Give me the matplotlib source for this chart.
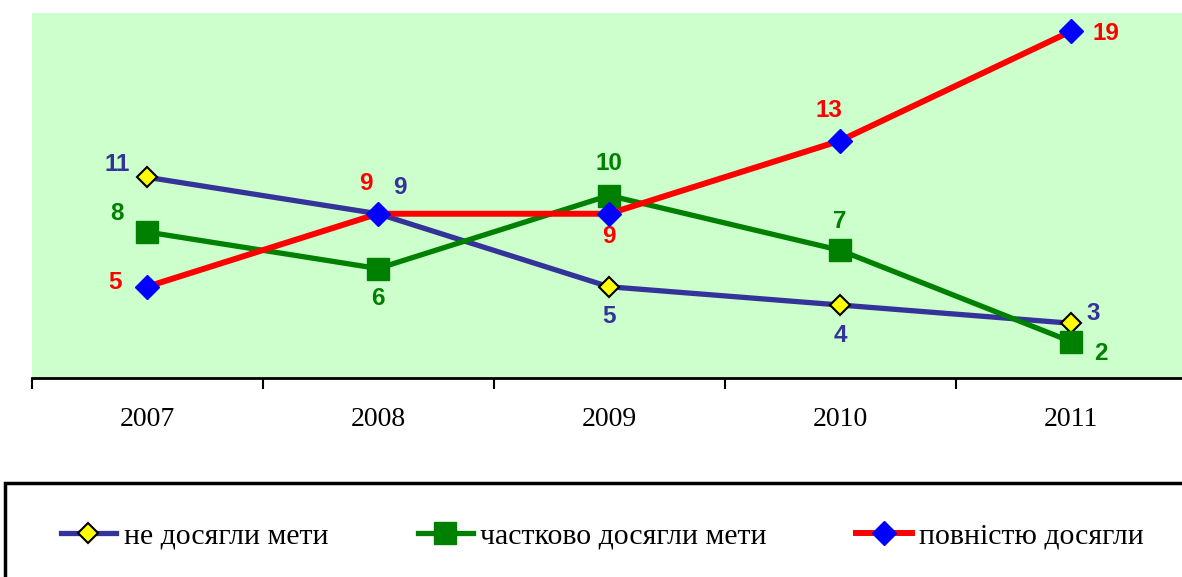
import matplotlib.pyplot as plt
from matplotlib.patches import Rectangle

# данные
years = ['2007', '2008', '2009', '2010', '2011']
ne_dosyahly = [11, 9, 5, 4, 3]
chastkovo = [8, 6, 10, 7, 2]
povnistyu = [5, 9, 9, 13, 19]
names = ['не досягли мети', 'частково досягли мети', 'повністю досягли']

# зміщення підписів (пікселі)
off_ne = [(-30, 13), (22, 26), (0, -30), (0, -30), (22, 10)]
off_ch = [(-30, 18), (0, -30), (0, 32), (0, 29), (30, -12)]
off_pov = [(-32, 4), (-12, 30), (0, -23), (-11, 30), (35, -2)]

W, H = 1182, 577
fig = plt.figure(figsize=(W / 100, H / 100), dpi=100)
ax = fig.add_axes([31.5 / W, 1 - 378 / H, 1155 / W, 365 / H])
ax.set_facecolor('#CCFFCC')

x = list(range(len(years)))
l1, = ax.plot(x, ne_dosyahly, color='#333399', lw=3.8, marker='D', ms=10,
              mfc='yellow', mec='black', mew=1.5, zorder=3)
l2, = ax.plot(x, chastkovo, color='#008000', lw=3.8, marker='s', ms=16.5,
              mfc='#008000', mec='#008000', zorder=4)
l3, = ax.plot(x, povnistyu, color='#FF0000', lw=4.3, marker='D', ms=12,
              mfc='#0000FF', mec='#0000FF', zorder=5)

lab_font = dict(family='Liberation Sans', fontweight='bold', fontsize=17.5,
                ha='center', va='center', textcoords='offset pixels')
for vals, offs, col in [(ne_dosyahly, off_ne, '#333399'),
                        (chastkovo, off_ch, '#008000'),
                        (povnistyu, off_pov, '#FF0000')]:
    for i, v in enumerate(vals):
        ax.annotate(str(v), (i, v), xytext=offs[i], color=col, **lab_font)

ax.set_xlim(-0.5, 4.5)
ax.set_ylim(0, 20)
ax.set_yticks([])
for s in ['left', 'right', 'top']:
    ax.spines[s].set_visible(False)
ax.spines['bottom'].set_linewidth(2)
ax.set_xticks(x)
ax.set_xticklabels(years, family='Liberation Serif', fontsize=20)
ax.tick_params(axis='x', which='major', length=0, pad=21)
ax.set_xticks([i - 0.5 for i in range(len(years) + 1)], minor=True)
ax.tick_params(axis='x', which='minor', length=8, width=1.5, direction='out')

# рамка легенди
fig.patches.append(Rectangle((5 / W, -0.05), 1.1, 1 - 483 / H + 0.05,
                             transform=fig.transFigure, fill=False,
                             edgecolor='black', lw=2.5))
fig.legend([l1, l2, l3], names, loc='center left',
           bbox_to_anchor=(34 / W, 1 - 536 / H), ncol=3, frameon=False,
           prop={'family': 'Liberation Serif', 'size': 21.5},
           handlelength=1.85, handletextpad=0.25, columnspacing=3.0,
           markerscale=1.0)

fig.savefig('out.png', dpi=100)
